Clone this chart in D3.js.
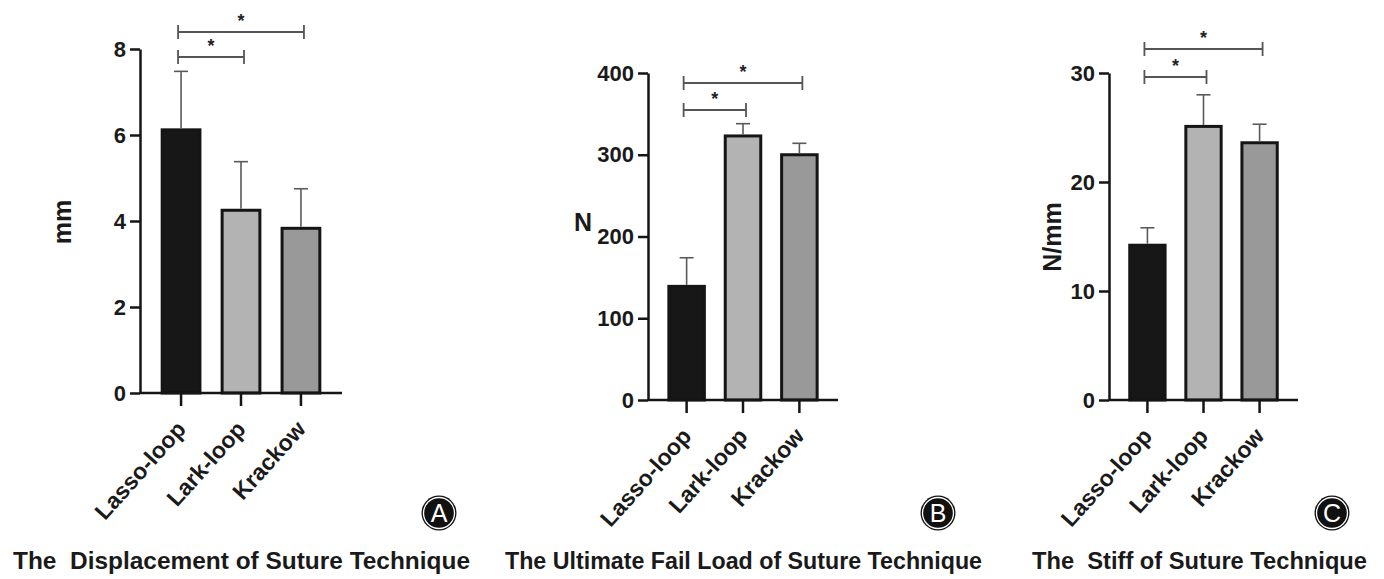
<!DOCTYPE html>
<html>
<head>
<meta charset="utf-8">
<script src="https://cdn.jsdelivr.net/npm/d3@7"></script>
<style>
  body { margin: 0; background: #fff; }
  svg { display: block; font-family: "Liberation Sans", Arial, sans-serif; }
</style>
</head>
<body>
<div id="chart"></div>
<script>
// data
const categories = ["Lasso-loop", "Lark-loop", "Krackow"];
const displacementMean = [6.12, 4.25, 3.83];
const displacementSD = [1.36, 1.13, 0.92];
const failLoadMean = [139, 323, 300];
const failLoadSD = [35, 15, 14];
const stiffMean = [14.2, 25.1, 23.6];
const stiffSD = [1.6, 2.9, 1.7];
const displacementTicks = [0, 2, 4, 6, 8];
const failLoadTicks = [0, 100, 200, 300, 400];
const stiffTicks = [0, 10, 20, 30];
const sigPairs = [[0, 1], [0, 2]];
const sigLabels = ["*", "*"];
const yLabels = ["mm", "N", "N/mm"];
const panelLetters = ["A", "B", "C"];
const titles = [
    "The  Displacement of Suture Technique",
    "The Ultimate Fail Load of Suture Technique",
    "The  Stiff of Suture Technique"
];
const barColors = ["#171717", "#b3b3b3", "#999999"];

const width = 1384;
const height = 579;

const svg = d3.select("#chart")
    .append("svg")
    .attr("width", width)
    .attr("height", height);

// layout of the three panels
const panels = [
    { mean: displacementMean, sd: displacementSD, ticks: displacementTicks, max: 8,
      x0: 140, x1: 342, yTop: 49, yBot: 393, brackets: [57, 32],
      labX: 62, labY: 222, labRot: true, titleX: 13, titleW: 457, circX: 439 },
    { mean: failLoadMean, sd: failLoadSD, ticks: failLoadTicks, max: 400,
      x0: 648, x1: 838, yTop: 73, yBot: 400, brackets: [110, 83],
      labX: 583, labY: 231, labRot: false, titleX: 505, titleW: 477, circX: 938 },
    { mean: stiffMean, sd: stiffSD, ticks: stiffTicks, max: 30,
      x0: 1109, x1: 1298, yTop: 73, yBot: 400, brackets: [77, 49],
      labX: 1052, labY: 237, labRot: true, titleX: 1032, titleW: 335, circX: 1332 }
];

panels.forEach(function (p, i) {
    const g = svg.append("g");

    const x = d3.scaleBand()
        .domain(categories)
        .range([p.x0, p.x1])
        .paddingInner(0.37)
        .paddingOuter(0.37);

    const y = d3.scaleLinear()
        .domain([0, p.max])
        .range([p.yBot, p.yTop]);

    // bars
    g.selectAll(".bar")
        .data(categories)
        .enter()
        .append("rect")
        .attr("x", d => x(d))
        .attr("y", (d, k) => y(p.mean[k]))
        .attr("width", x.bandwidth())
        .attr("height", (d, k) => y(0) - y(p.mean[k]))
        .style("fill", (d, k) => barColors[k])
        .style("stroke", "#151515")
        .style("stroke-width", 3);

    // error bars (upper only)
    const err = g.selectAll(".err")
        .data(categories)
        .enter()
        .append("g")
        .style("stroke", "#5a5a5a")
        .style("stroke-width", 1.6);
    err.append("line")
        .attr("x1", d => x(d) + x.bandwidth() / 2)
        .attr("x2", d => x(d) + x.bandwidth() / 2)
        .attr("y1", (d, k) => y(p.mean[k]) - 1.5)
        .attr("y2", (d, k) => y(p.mean[k] + p.sd[k]));
    err.append("line")
        .attr("x1", d => x(d) + x.bandwidth() / 2 - 7)
        .attr("x2", d => x(d) + x.bandwidth() / 2 + 7)
        .attr("y1", (d, k) => y(p.mean[k] + p.sd[k]))
        .attr("y2", (d, k) => y(p.mean[k] + p.sd[k]));

    // y axis
    const yAxis = g.append("g")
        .attr("transform", `translate(${p.x0},0)`)
        .call(d3.axisLeft(y).tickValues(p.ticks).tickSize(10).tickSizeOuter(0).tickPadding(4));
    yAxis.select(".domain").style("stroke", "#151515").style("stroke-width", 2.5);
    yAxis.selectAll(".tick line").style("stroke", "#151515").style("stroke-width", 2.5);
    yAxis.selectAll(".tick text")
        .style("font-size", "22px")
        .style("font-weight", "bold")
        .style("fill", "#1a1a1a");

    // x axis
    const xAxis = g.append("g")
        .attr("transform", `translate(0,${p.yBot})`)
        .call(d3.axisBottom(x).tickSize(13).tickSizeOuter(0));
    xAxis.select(".domain").attr("d", `M${p.x0},0H${p.x1}`)
        .style("stroke", "#151515").style("stroke-width", 2.5);
    xAxis.selectAll(".tick line").style("stroke", "#151515").style("stroke-width", 2.5);
    xAxis.selectAll(".tick text")
        .attr("y", 0)
        .attr("dy", 0)
        .attr("transform", "translate(6,37) rotate(-48)")
        .style("text-anchor", "end")
        .style("font-size", "23px")
        .style("font-weight", "bold")
        .style("fill", "#1a1a1a");

    // significance brackets
    const cx = k => x(categories[k]) + x.bandwidth() / 2;
    sigPairs.forEach(function (pair, s) {
        const by = p.brackets[s];
        const xa = cx(pair[0]) - 3;
        const xb = cx(pair[1]) + 3;
        g.append("path")
            .attr("d", `M${xa},${by - 7}V${by + 7}M${xa},${by}H${xb}M${xb},${by - 7}V${by + 7}`)
            .style("fill", "none")
            .style("stroke", "#555")
            .style("stroke-width", 1.8);
        g.append("text")
            .attr("x", (xa + xb) / 2)
            .attr("y", by - 5)
            .attr("text-anchor", "middle")
            .style("font-size", "18px")
            .style("font-weight", "bold")
            .style("fill", "#222")
            .text(sigLabels[s]);
    });

    // y label
    g.append("text")
        .attr("transform", p.labRot ? `translate(${p.labX},${p.labY}) rotate(-90)` : `translate(${p.labX},${p.labY})`)
        .attr("text-anchor", "middle")
        .attr("dy", p.labRot ? "0.35em" : 0)
        .style("font-size", "25px")
        .style("font-weight", "bold")
        .style("fill", "#1a1a1a")
        .text(yLabels[i]);

    // panel letter
    g.append("circle")
        .attr("cx", p.circX).attr("cy", 513).attr("r", 17.5)
        .style("fill", "#111");
    g.append("circle")
        .attr("cx", p.circX).attr("cy", 513).attr("r", 15.5)
        .style("fill", "none").style("stroke", "#fff").style("stroke-width", 1.3);
    g.append("text")
        .attr("x", p.circX).attr("y", 513)
        .attr("dy", "0.36em")
        .attr("text-anchor", "middle")
        .style("font-size", "25px")
        .style("fill", "#fff")
        .text(panelLetters[i]);

    // title (keep the double spaces)
    g.append("text")
        .attr("x", p.titleX).attr("y", 569)
        .attr("textLength", p.titleW)
        .attr("lengthAdjust", "spacingAndGlyphs")
        .style("white-space", "pre")
        .style("font-size", "24px")
        .style("font-weight", "bold")
        .style("fill", "#1a1a1a")
        .text(titles[i]);
});
</script>
</body>
</html>
